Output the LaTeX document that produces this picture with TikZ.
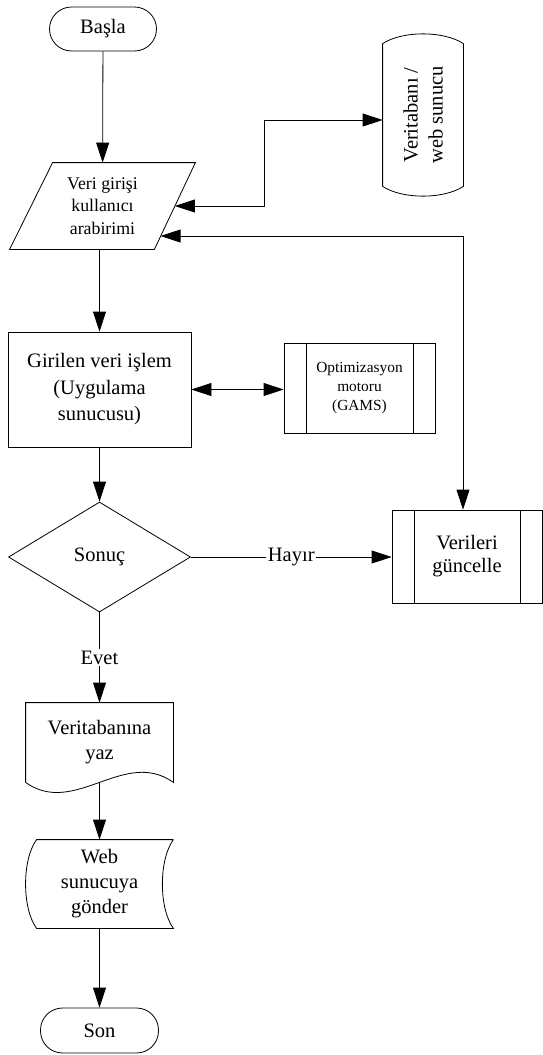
\documentclass[tikz,border=0pt]{standalone}
\usepackage{fontspec}
\setmainfont{Liberation Serif}
\usetikzlibrary{shapes,arrows.meta}
\usetikzlibrary{positioning}

\tikzset{
    box/.style={draw, align=center, inner sep=0pt, font=\fontsize{20.5}{25}\selectfont},
    terminal/.style={box, rectangle, rounded corners=22pt, minimum width=107pt, minimum height=44pt},
    process/.style={box, rectangle, minimum width=183pt, minimum height=115pt,
        font=\fontsize{20.5}{26.5}\selectfont},
    subproc/.style={box, rectangle, minimum width=151pt, minimum height=90pt,
        path picture={
            \draw ([xshift=22pt]path picture bounding box.north west) -- ([xshift=22pt]path picture bounding box.south west);
            \draw ([xshift=-22pt]path picture bounding box.north east) -- ([xshift=-22pt]path picture bounding box.south east);
        }},
    decision/.style={box, diamond, minimum width=182pt, minimum height=110pt, aspect=1.65},
    freebox/.style={box, draw=none, rectangle},
    lbl/.style={fill=white, inner sep=1.5pt, font=\fontsize{20.5}{25}\selectfont}
}

\begin{document}
\begin{tikzpicture}[x=1pt, y=-1pt, line width=0.8pt, >={Triangle[length=20pt,width=13pt]}]
    \useasboundingbox (0,0) rectangle (543,1055);

    \node[terminal]                                 (start) at (103,29)      {Başla};
    \node[freebox, minimum width=185pt, minimum height=86pt,
          font=\fontsize{17.8}{22.5}\selectfont]    (input) at (102.5,206)   {Veri girişi\\kullanıcı\\arabirimi};
    \node[freebox, minimum width=80pt, minimum height=142pt] (db) at (423,115) {};
    \node[rotate=90, align=center, font=\fontsize{20.5}{25}\selectfont] (dbtext) at (db) {Veritabanı /\\web sunucu};
    \node[process]                                  (proc)  at (99.5,389.5)  {Girilen veri işlem\\(Uygulama\\sunucusu)};
    \node[subproc, font=\fontsize{15.4}{19}\selectfont] (opt) at (359.5,388) {Optimizasyon\\motoru\\(GAMS)};
    \node[decision]                                 (res)   at (99.5,557)    {Sonuç};
    \node[subproc, minimum width=150pt, minimum height=93pt,
          font=\fontsize{20.5}{23}\selectfont]      (upd)   at (467,556.5)   {Verileri\\güncelle};
    \node[freebox, minimum width=147pt, minimum height=79pt] (doc)  at (99.5,742.5) {Veritabanına\\yaz};
    \node[freebox, minimum width=147pt, minimum height=88pt] (send) at (99.5,884)   {Web\\sunucuya\\gönder};
    \node[terminal, minimum width=118pt, minimum height=45pt] (stop) at (99.5,1030.5) {Son};

    % outlines of the hand drawn shapes
    \draw ([xshift=43pt]input.north west) -- (input.north east)
        -- ([xshift=-41pt]input.south east) -- (input.south west) -- cycle;
    \draw (db.south west) -- (db.north west) .. controls +(20,-13) and +(-20,-13) .. (db.north east)
        -- (db.south east) .. controls +(-20,13) and +(20,13) .. (db.south west);
    \draw (doc.south west) -- (doc.north west) -- (doc.north east) -- (doc.south east)
        .. controls +(-49,-35) and +(49,35) .. (doc.south west);
    \draw (send.north east) -- ([xshift=11pt]send.north west)
        .. controls +(-14.7,20) and +(-14.7,-20) .. ([xshift=11pt]send.south west)
        -- (send.south east) .. controls +(-14.7,-20) and +(-14.7,20) .. (send.north east);

    % connectors
    \draw[->]  (start) -- (input);
    \draw[<->] ([xshift=-20.5pt]input.east) -- ++(89.5,0) |- ([yshift=-5pt]db.west);
    \draw[<->] ([xshift=-34.8pt,yshift=-30pt]input.east) -| ([xshift=-4pt]upd.north);
    \draw[->]  (proc.north |- input.south) -- (proc);
    \draw[<->] (proc.east) -- (proc.east -| opt.west);
    \draw[->]  (proc) -- (res);
    \draw[->]  (res.east) -- node[lbl] {Hayır} (res.east -| upd.west);
    \draw[->]  (res) -- node[lbl] {Evet} (doc);
    \draw[->]  (doc.south) -- (send);
    \draw[->]  (send) -- (stop);
\end{tikzpicture}
\end{document}
